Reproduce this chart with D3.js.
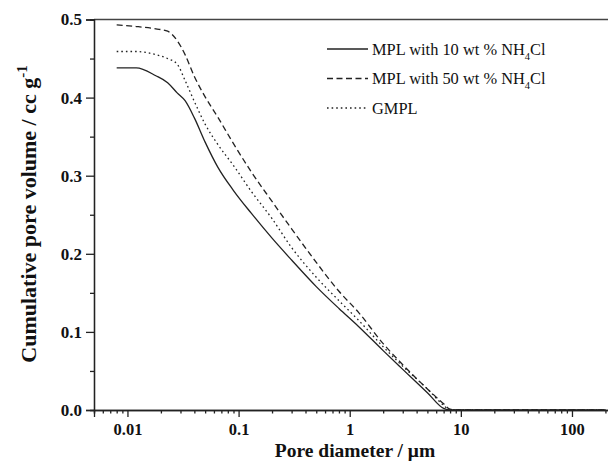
<!DOCTYPE html>
<html>
<head>
<meta charset="utf-8">
<script src="https://cdn.jsdelivr.net/npm/d3@7"></script>
<style>
  body { margin: 0; background: #fff; }
  svg { display: block; font-family: "Liberation Serif", "Times New Roman", serif; }
</style>
</head>
<body>
<svg id="chart"></svg>
<script>
// pore diameter (um), shared grid for the three curves
var diameter = [0.008, 0.012, 0.018, 0.023, 0.028, 0.033, 0.04, 0.05, 0.065, 0.09, 0.13, 0.2, 0.3, 0.5, 0.8, 1.2, 2, 3, 5, 7, 8, 9, 20, 50, 200];
// cumulative pore volume (cc/g)
var mpl10 = [0.438, 0.438, 0.428, 0.419, 0.406, 0.396, 0.374, 0.343, 0.311, 0.281, 0.252, 0.220, 0.192, 0.158, 0.130, 0.107, 0.076, 0.052, 0.022, 0.002, 0, 0, 0, 0, 0];
var mpl50 = [0.493, 0.491, 0.488, 0.485, 0.473, 0.455, 0.427, 0.401, 0.375, 0.341, 0.305, 0.267, 0.232, 0.189, 0.152, 0.125, 0.085, 0.058, 0.027, 0.008, 0.001, 0, 0, 0, 0];
var gmpl  = [0.459, 0.459, 0.455, 0.450, 0.443, 0.422, 0.395, 0.366, 0.340, 0.313, 0.280, 0.245, 0.208, 0.170, 0.140, 0.115, 0.081, 0.056, 0.027, 0.006, 0, 0, 0, 0, 0];

var seriesNames = ["MPL with 10 wt % NH", "MPL with 50 wt % NH", "GMPL"];
var xMajor = [0.01, 0.1, 1, 10, 100];
var yMajor = [0, 0.1, 0.2, 0.3, 0.4, 0.5];

var width = 608, height = 461;
var margin = {top: 19.5, left: 94, bottom: 51};

var svg = d3.select("#chart")
    .attr("width", width)
    .attr("height", height);

// x log scale, runs a bit past the right edge (the original is cropped)
var x = d3.scaleLog().domain([0.005, 300]).range([margin.left, 625]);
var y = d3.scaleLinear().domain([0, 0.5]).range([height - margin.bottom, margin.top]);

var ink = "#222";

// minor ticks on the log axis
var xMinor = [];
[0.001, 0.01, 0.1, 1, 10, 100].forEach(function(dec) {
    for (var k = 2; k <= 9; k++) {
        var v = dec * k;
        if (v >= 0.005 && v <= 300) xMinor.push(v);
    }
});
var yMinor = [0.05, 0.15, 0.25, 0.35, 0.45];

// frame top line
svg.append("line")
    .attr("x1", margin.left).attr("x2", width)
    .attr("y1", y(0.5)).attr("y2", y(0.5))
    .attr("stroke", "#444").attr("stroke-width", 1.3);

// x axis
var gx = svg.append("g").attr("transform", "translate(0," + y(0) + ")");
gx.call(d3.axisBottom(x).tickValues(xMinor).tickSize(3.5).tickFormat(""));
gx.append("g").call(d3.axisBottom(x).tickValues(xMajor).tickSize(7)
    .tickFormat(function(d) { return d3.format("~g")(d); }));
gx.selectAll("path.domain").attr("stroke", ink).attr("stroke-width", 1.3);
gx.selectAll(".tick line").attr("stroke", ink).attr("stroke-width", 1.3);
gx.selectAll("text")
    .attr("fill", "#111")
    .attr("y", 13)
    .style("font-family", "Liberation Serif")
    .style("font-size", "16.5px")
    .style("font-weight", "bold");

// y axis
var gy = svg.append("g").attr("transform", "translate(" + margin.left + ",0)");
gy.call(d3.axisLeft(y).tickValues(yMinor).tickSize(4).tickFormat(""));
gy.append("g").call(d3.axisLeft(y).tickValues(yMajor).tickSize(8).tickFormat(d3.format(".1f")));
gy.selectAll("path.domain").attr("stroke", ink).attr("stroke-width", 1.3);
gy.selectAll(".tick line").attr("stroke", ink).attr("stroke-width", 1.3);
gy.selectAll("text")
    .attr("fill", "#111")
    .attr("x", -12)
    .style("font-family", "Liberation Serif")
    .style("font-size", "17px")
    .style("font-weight", "bold");

// curves
var dashes = [null, "6,3.5", "1.6,3"];
var allSeries = [mpl10, mpl50, gmpl];

var line = d3.line()
    .x(function(d) { return x(d[0]); })
    .y(function(d) { return y(d[1]); })
    .curve(d3.curveMonotoneX);

allSeries.forEach(function(vals, i) {
    var pts = diameter.map(function(d, j) { return [d, vals[j]]; });
    svg.append("path")
        .datum(pts)
        .attr("fill", "none")
        .attr("stroke", ink)
        .attr("stroke-width", 1.3)
        .attr("stroke-dasharray", dashes[i])
        .attr("d", line);
});

// legend
var legend = svg.append("g").attr("transform", "translate(327,49)");
seriesNames.forEach(function(name, i) {
    var row = legend.append("g").attr("transform", "translate(0," + (i * 29.5) + ")");
    row.append("line")
        .attr("x1", 0).attr("x2", 41)
        .attr("stroke", ink).attr("stroke-width", 1.3)
        .attr("stroke-dasharray", dashes[i]);
    var t = row.append("text")
        .attr("x", 45).attr("y", 5.5)
        .attr("fill", "#111")
        .style("font-size", "16.4px")
        .text(name);
    if (i < 2) {
        t.append("tspan").attr("dy", 5).style("font-size", "10.5px").text("4");
        t.append("tspan").attr("dy", -5).text("Cl");
    }
});

// axis titles
svg.append("text")
    .attr("x", 355).attr("y", 456.5)
    .attr("text-anchor", "middle")
    .attr("fill", "#111")
    .style("font-size", "19.5px")
    .style("font-weight", "bold")
    .text("Pore diameter / \u03bcm");

var yt = svg.append("text")
    .attr("transform", "translate(36,214) rotate(-90)")
    .attr("text-anchor", "middle")
    .attr("fill", "#111")
    .style("font-size", "22px")
    .style("font-weight", "bold")
    .text("Cumulative pore volume / cc g");
yt.append("tspan").attr("dy", -9).style("font-size", "15px").text("-1");
</script>
</body>
</html>
